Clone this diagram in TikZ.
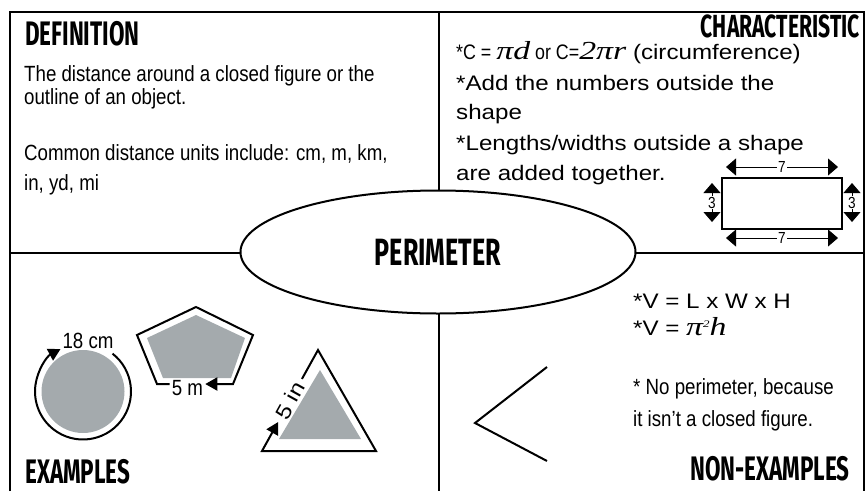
\documentclass[tikz,border=0pt]{standalone}
\usepackage{fontspec}
\setmainfont{Liberation Sans}
\newfontfamily\bodyfont[FakeStretch=1.15]{Liberation Sans}
\newfontfamily\narrowfont[FakeStretch=0.85]{Liberation Sans}
\newfontfamily\headfont[FakeStretch=0.66]{Fira Sans}
\newfontfamily\greekfont[FakeStretch=1.3]{Liberation Serif}
\usepackage{xcolor}
\usepackage{tikz}
\usetikzlibrary{arrows.meta,positioning,shapes.geometric,calc}
\tikzset{>=Stealth}
\definecolor{shapegray}{RGB}{164,170,173}
\newcommand{\eqface}[1]{{\narrowfont\fontsize{21}{21}\selectfont #1}}
\newcommand{\piface}[1]{{\greekfont\itshape\fontsize{26}{26}\selectfont #1}}

\begin{document}
\begin{tikzpicture}[
    x=1pt, y=-1pt,
    boxline/.style={line width=2.5pt},
    shapeline/.style={line width=2pt},
    heading/.style={inner sep=0pt, font=\headfont\bfseries\fontsize{34}{34}\selectfont},
    bodytext/.style={inner sep=0pt, anchor=base west, font=\bodyfont\fontsize{21}{25}\selectfont},
    narrowtext/.style={inner sep=0pt, anchor=base west, font=\narrowfont\fontsize{22}{26}\selectfont},
    tag/.style={inner sep=2pt, font=\narrowfont\fontsize{22}{22}\selectfont},
    dimlabel/.style={inner sep=1pt, fill=white, font=\narrowfont\fontsize{16}{16}\selectfont},
    dimarrow/.style={line width=0.8pt,
        {Triangle[length=10pt,width=17pt]}-{Triangle[length=10pt,width=17pt]}},
    turnarrow/.style={shapeline, -{Triangle[length=12pt,width=13pt]}}
]
    \useasboundingbox (0,0) rectangle (868,491);

    \draw[boxline] (10,491) -- (10,12) -- (864,12) -- (864,491);
    \draw[boxline] (10,253) -- (864,253);
    \draw[boxline] (439,12) -- (439,491);

    \node[ellipse, draw, line width=2pt, fill=white, minimum width=395pt,
        minimum height=123pt, font=\headfont\bfseries\fontsize{38}{38}\selectfont]
        (topic) at (438,252) {PERIMETER};

    \node[heading, anchor=base west] (definition) at (25,45) {DEFINITION};
    \node[heading, anchor=base east, font=\headfont\bfseries\fontsize{32}{32}\selectfont]
        (characteristic) at (860,37) {CHARACTERISTIC};
    \node[heading, anchor=base west] (examples) at (25,483) {EXAMPLES};
    \node[heading, anchor=base east] (nonexamples) at (850,480) {NON-EXAMPLES};

    \node[narrowtext] (def1) at (24,81) {The distance around a closed figure or the};
    \node[narrowtext] (def2) at (24,104) {outline of an object.};
    \node[narrowtext] (def3) at (24,160) {Common distance units include: cm, m, km,};
    \node[narrowtext] (def4) at (24,190) {in, yd, mi};

    \node[bodytext] (char1) at (456,59)
        {\eqface{*C = }\piface{πd}\eqface{ or C=}\piface{2πr} (circumference)};
    \node[bodytext] (char2) at (456,90) {*Add the numbers outside the};
    \node[bodytext] (char3) at (456,119) {shape};
    \node[bodytext] (char4) at (456,150) {*Lengths/widths outside a shape};
    \node[bodytext] (char5) at (456,180) {are added together.};

    \node[draw, line width=2pt, minimum width=120pt, minimum height=51pt, inner sep=0pt]
        (rect) at (782,203.5) {};
    \coordinate (topL) at (726,167);
    \coordinate (topR) at (838,167);
    \coordinate (botL) at (726,238);
    \coordinate (botR) at (838,238);
    \coordinate (leftT) at (712,183);
    \coordinate (leftB) at (712,222);
    \coordinate (rightT) at (852,183);
    \coordinate (rightB) at (852,222);
    \draw[dimarrow] (topL) -- node[dimlabel] {7} (topR);
    \draw[dimarrow] (botL) -- node[dimlabel] {7} (botR);
    \draw[dimarrow] (leftT) -- node[dimlabel] {3} (leftB);
    \draw[dimarrow] (rightT) -- node[dimlabel] {3} (rightB);

    \node[circle, fill=shapegray, minimum size=83pt, inner sep=0pt] (disc) at (83,391.5) {};
    \draw[turnarrow] ([shift={(-52:48)}]disc.center) arc[start angle=-52, end angle=242, radius=48];
    \node[tag] (circlabel) at (88,341) {18 cm};

    \coordinate (p1) at (196,307);
    \coordinate (p2) at (253,335);
    \coordinate (p3) at (233,384);
    \coordinate (p4) at (157,384);
    \coordinate (p5) at (137,335);
    \fill[shapegray] (196,315) -- (245,338) -- (231,378) -- (163,378) -- (147,338) -- cycle;
    \node[tag] (pentlabel) at (187.5,388) {5 m};
    \draw[turnarrow] (pentlabel.west |- p4) -- (p4) -- (p5) -- (p1) -- (p2) -- (p3)
        -- (pentlabel.east |- p3);

    \coordinate (t1) at (318,350);
    \coordinate (t2) at (376,451);
    \coordinate (t3) at (262,451);
    \fill[shapegray] (320,370) -- (361,439) -- (279,439) -- cycle;
    \node[tag, rotate=61, inner xsep=5pt, font=\bodyfont\fontsize{21}{21}\selectfont]
        (trilabel) at ($(t3)!0.5!(t1)$) {5 in};
    \draw[turnarrow] (trilabel.east) -- (t1) -- (t2) -- (t3) -- (trilabel.west);

    \coordinate (v1) at (547,367);
    \coordinate (v2) at (475,423);
    \coordinate (v3) at (547,461);
    \draw[shapeline] (v1) -- (v2) -- (v3);

    \node[bodytext] (non1) at (633,308) {*V = L x W x H};
    \node[bodytext] (non2) at (633,335)
        {*V = \piface{π\raisebox{8pt}{\fontsize{10}{10}\selectfont 2}h}};
    \node[narrowtext] (non3) at (633,394) {* No perimeter, because};
    \node[narrowtext] (non4) at (633,426) {it isn’t a closed figure.};
\end{tikzpicture}
\end{document}
